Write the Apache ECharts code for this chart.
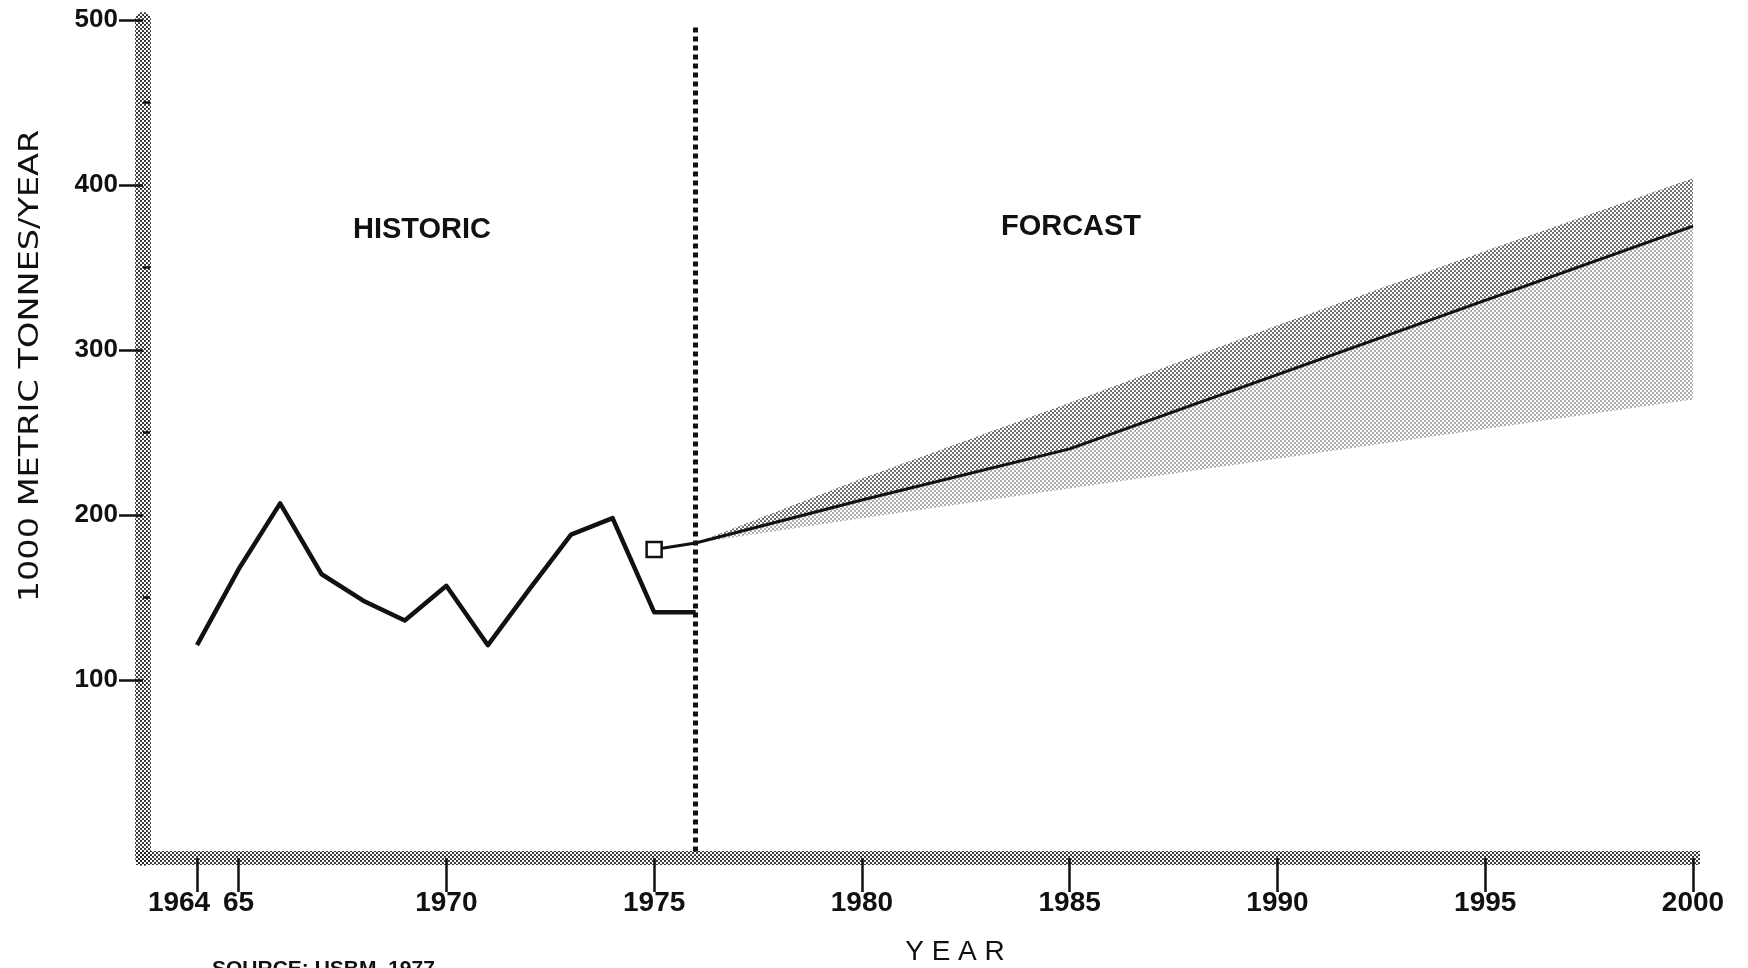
<!DOCTYPE html>
<html>
<head>
<meta charset="utf-8">
<title>Historic and forecast production</title>
<script src="https://cdn.jsdelivr.net/npm/echarts@6/dist/echarts.min.js"></script>
<style>
    html, body { margin: 0; padding: 0; background: #fff; }
    #chart { width: 1748px; height: 968px; }
</style>
</head>
<body>
<div id="chart"></div>
<script>
// values (1000 metric tonnes / year)
var historicYears = [1964, 1965, 1966, 1967, 1968, 1969, 1970, 1971, 1972, 1973, 1974, 1975, 1976];
var historicValues = [121, 167, 207, 164, 148, 136, 157, 121, 155, 188, 198, 141, 141];

var baseYear = [1975];
var baseValue = [179];

var forecastYears = [1975, 1976, 1980, 1985, 1990, 1995, 2000];
var forecastValues = [179, 183, 209, 240, 285, 330, 375];

var bandYears = [1976, 1980, 1985, 1990, 1995, 2000];
var bandLow = [183, 198, 216, 234, 252, 270];
var bandMid = [183, 209, 240, 285, 330, 375];
var bandHigh = [183, 222, 268, 315, 360, 404];

var xTickYears = [1964, 1965, 1970, 1975, 1980, 1985, 1990, 1995, 2000];
var yTickValues = [100, 200, 300, 400, 500];
var yMinorTicks = [150, 250, 350, 450];

var ink = '#111';

// halftone dot pattern, like the old printed screen
function dots(r, color) {
    var c = document.createElement('canvas');
    c.width = 4;
    c.height = 4;
    var ctx = c.getContext('2d');
    ctx.fillStyle = color;
    ctx.beginPath();
    ctx.arc(1, 1, r, 0, Math.PI * 2);
    ctx.fill();
    ctx.beginPath();
    ctx.arc(3, 3, r, 0, Math.PI * 2);
    ctx.fill();
    return { image: c, repeat: 'repeat' };
}

function pairs(xs, ys) {
    return xs.map(function (x, i) { return [x, ys[i]]; });
}

var darkDots = dots(0.95, '#333');
var lightDots = dots(0.8, '#444');
var axisDots = dots(1.1, '#222');

// forecast range drawn as two shaded polygons (above / below the mid line)
function renderBand(params, api) {
    if (params.dataIndex !== 0) return null;
    var n = bandYears.length;
    var low = [], mid = [], high = [];
    for (var i = 0; i < n; i++) {
        var x = api.value(0, i);
        low.push(api.coord([x, api.value(1, i)]));
        mid.push(api.coord([x, api.value(2, i)]));
        high.push(api.coord([x, api.value(3, i)]));
    }
    return {
        type: 'group',
        children: [{
            type: 'polygon',
            shape: { points: low.concat(mid.slice().reverse()) },
            style: { fill: lightDots, stroke: null }
        }, {
            type: 'polygon',
            shape: { points: mid.concat(high.slice().reverse()) },
            style: { fill: darkDots, stroke: null }
        }]
    };
}

var chart = echarts.init(document.getElementById('chart'));

chart.setOption({
    animation: false,
    backgroundColor: '#fff',
    textStyle: {
        fontFamily: '"Liberation Sans", Arial, sans-serif',
        color: ink
    },
    grid: {
        left: 143,
        right: 55,
        top: 20,
        bottom: 110,
        containLabel: false,
        outerBoundsMode: 'none'
    },
    xAxis: {
        type: 'value',
        min: 1962.7,
        max: 2000,
        name: 'Y E A R',
        nameLocation: 'middle',
        nameGap: 80,
        nameTextStyle: {
            fontSize: 28,
            color: ink,
            padding: [0, 0, 0, 74]
        },
        splitLine: { show: false },
        axisLine: {
            show: true,
            onZero: false,
            lineStyle: { color: axisDots, width: 14, cap: 'square' }
        },
        axisTick: {
            show: true,
            customValues: xTickYears,
            length: 34,
            lineStyle: { color: ink, width: 2.5 }
        },
        axisLabel: {
            customValues: xTickYears,
            margin: 31,
            fontSize: 28,
            fontWeight: 'bold',
            color: ink,
            formatter: function (v) {
                if (v === 1964) return '{shift|1964}';
                if (v === 1965) return '65';
                return String(v);
            },
            rich: {
                shift: {
                    fontSize: 28,
                    fontWeight: 'bold',
                    color: ink,
                    padding: [0, 36, 0, 0]
                }
            }
        }
    },
    yAxis: [{
        type: 'value',
        min: -8,
        max: 500,
        splitLine: { show: false },
        axisLine: {
            show: true,
            onZero: false,
            lineStyle: { color: axisDots, width: 16 }
        },
        axisTick: {
            show: true,
            customValues: yTickValues,
            length: 24,
            lineStyle: { color: ink, width: 2.5 }
        },
        axisLabel: {
            customValues: yTickValues,
            margin: 25,
            fontSize: 26,
            fontWeight: 'bold',
            color: ink
        }
    }, {
        type: 'value',
        min: -8,
        max: 500,
        position: 'left',
        splitLine: { show: false },
        axisLine: { show: false },
        axisLabel: { show: false },
        axisTick: {
            show: true,
            inside: true,
            customValues: yMinorTicks,
            length: 7,
            lineStyle: { color: ink, width: 2.5 }
        }
    }],
    graphic: [{
        // the original title is widely spaced, so stretch it along its length
        type: 'text',
        x: 31,
        y: 366,
        rotation: Math.PI / 2,
        scaleX: 1.29,
        style: {
            text: '1000 METRIC TONNES/YEAR',
            font: '26px "DejaVu Sans", sans-serif',
            fill: ink,
            textAlign: 'center',
            textVerticalAlign: 'middle'
        }
    }, {
        type: 'text',
        x: 422,
        y: 230,
        style: {
            text: 'HISTORIC',
            font: 'bold 29px "Liberation Sans", Arial, sans-serif',
            fill: ink,
            textAlign: 'center',
            textVerticalAlign: 'middle'
        }
    }, {
        type: 'text',
        x: 1071,
        y: 227,
        style: {
            text: 'FORCAST',
            font: 'bold 29px "Liberation Sans", Arial, sans-serif',
            fill: ink,
            textAlign: 'center',
            textVerticalAlign: 'middle'
        }
    }, {
        type: 'text',
        x: 212,
        y: 959,
        style: {
            text: 'SOURCE: USBM, 1977',
            font: 'bold 21px "Liberation Sans", Arial, sans-serif',
            fill: ink,
            textAlign: 'left',
            textVerticalAlign: 'top'
        }
    }],
    series: [{
        name: 'Forecast range',
        type: 'custom',
        renderItem: renderBand,
        encode: { x: 0, y: [1, 2, 3] },
        data: bandYears.map(function (x, i) { return [x, bandLow[i], bandMid[i], bandHigh[i]]; }),
        z: 1
    }, {
        name: 'Historic',
        type: 'line',
        symbol: 'none',
        lineStyle: { color: ink, width: 4.5, join: 'round' },
        data: pairs(historicYears, historicValues),
        z: 3,
        markLine: {
            silent: true,
            symbol: 'none',
            label: { show: false },
            lineStyle: { color: ink, width: 5, type: [5, 4] },
            data: [[
                { coord: [historicYears[historicYears.length - 1], -4] },
                { coord: [historicYears[historicYears.length - 1], 496] }
            ]]
        }
    }, {
        name: 'Forecast',
        type: 'line',
        symbol: 'none',
        lineStyle: { color: ink, width: 3 },
        data: pairs(forecastYears, forecastValues),
        z: 3
    }, {
        name: 'Base year',
        type: 'scatter',
        symbol: 'rect',
        symbolSize: 15,
        itemStyle: { color: '#fff', borderColor: ink, borderWidth: 2.5, opacity: 1 },
        data: pairs(baseYear, baseValue),
        z: 4
    }]
});
</script>
</body>
</html>
